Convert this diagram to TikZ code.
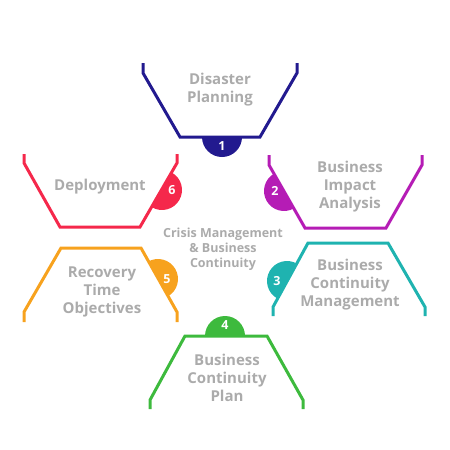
\documentclass[tikz,border=0pt]{standalone}
\usepackage{fontspec}
\setmainfont{Open Sans}
\usepackage{xcolor}
\usepackage{tikz}
\usetikzlibrary{positioning}
\definecolor{cOne}{HTML}{221A8F}
\definecolor{cTwo}{HTML}{B51CB5}
\definecolor{cThree}{HTML}{1FB3B0}
\definecolor{cFour}{HTML}{3DBA3D}
\definecolor{cFive}{HTML}{F7A21E}
\definecolor{cSix}{HTML}{F5284B}
\definecolor{txtgray}{HTML}{ABABAB}

\begin{document}
\begin{tikzpicture}[x=1pt, y=-1pt]
\tikzstyle{rim}=[line width=3pt]
\tikzstyle{lbl}=[align=center, text=txtgray, font=\bfseries\fontsize{15}{18}\selectfont]
\tikzstyle{mid}=[align=center, text=txtgray, font=\bfseries\fontsize{12.5}{15}\selectfont]
\tikzstyle{num}=[text=white, font=\bfseries\fontsize{12.5}{13}\selectfont]
\useasboundingbox (0,0) rectangle (450,450);

% 1 - top
\draw[rim, cOne] (143,63) -- (143,73) -- (180,137) -- (260,137) -- (297,73) -- (297,63);
\coordinate (d1) at (222,137);
\fill[cOne] (d1) ++(0:20) arc[start angle=0, end angle=180, radius=20] -- cycle;
\node[num] (n1) at (222,146) {1};
\node[lbl] (t1) at (220,90) {Disaster\\Planning};

% 2 - upper right
\draw[rim, cTwo] (269,155) -- (269,165) -- (305,228) -- (386,228) -- (422,165) -- (422,155);
\coordinate (d2) at (284,191);
\fill[cTwo] (d2) ++(60:20) arc[start angle=60, end angle=240, radius=20] -- cycle;
\node[num] (n2) at (275,191) {2};
\node[lbl] (t2) at (350,187) {Business\\Impact\\Analysis};

% 3 - lower right
\draw[rim, cThree] (273,316) -- (273,307) -- (308,243) -- (388,243) -- (425,307) -- (425,316);
\coordinate (d3) at (287,281);
\fill[cThree] (d3) ++(120:20) arc[start angle=120, end angle=300, radius=20] -- cycle;
\node[num] (n3) at (277,281) {3};
\node[lbl] (t3) at (350,285) {Business\\Continuity\\Management};

% 4 - bottom
\draw[rim, cFour] (150,409) -- (150,400) -- (185,336) -- (267,336) -- (303,400) -- (303,409);
\coordinate (d4) at (225,336);
\fill[cFour] (d4) ++(180:20) arc[start angle=180, end angle=360, radius=20] -- cycle;
\node[num] (n4) at (225,325) {4};
\node[lbl] (t4) at (227,378) {Business\\Continuity\\Plan};

% 5 - lower left
\draw[rim, cFive] (24,322) -- (24,312) -- (61,248) -- (141,248) -- (177,312) -- (177,322);
\coordinate (d5) at (158,279);
\fill[cFive] (d5) ++(60:20) arc[start angle=60, end angle=-120, radius=20] -- cycle;
\node[num] (n5) at (167,279) {5};
\node[lbl] (t5) at (102,292) {Recovery\\Time\\Objectives};

% 6 - upper left
\draw[rim, cSix] (24,154) -- (24,163) -- (60,227) -- (140,227) -- (177,163) -- (177,154);
\coordinate (d6) at (162,190);
\fill[cSix] (d6) ++(-60:20) arc[start angle=-60, end angle=120, radius=20] -- cycle;
\node[num] (n6) at (172,190) {6};
\node[lbl] (t6) at (100,187) {Deployment};

% centre
\node[mid] (core) at (223,249) {Crisis Management\\\& Business\\Continuity};
\end{tikzpicture}
\end{document}
